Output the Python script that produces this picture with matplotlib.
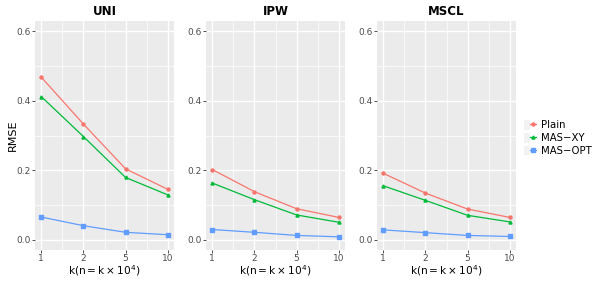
import numpy as np
import matplotlib.pyplot as plt
from matplotlib.patches import Patch
from matplotlib.legend_handler import HandlerTuple

plt.rcParams['mathtext.default'] = 'regular'

# data
k_labels = ["1", "2", "5", "10"]
panels = ["UNI", "IPW", "MSCL"]
methods = ["Plain", "MAS\u2212XY", "MAS\u2212OPT"]

plain = {"UNI": [0.468, 0.333, 0.204, 0.145],
         "IPW": [0.202, 0.138, 0.089, 0.064],
         "MSCL": [0.191, 0.134, 0.088, 0.064]}
mas_xy = {"UNI": [0.412, 0.297, 0.179, 0.129],
          "IPW": [0.163, 0.115, 0.071, 0.050],
          "MSCL": [0.155, 0.113, 0.070, 0.051]}
mas_opt = {"UNI": [0.065, 0.040, 0.021, 0.014],
           "IPW": [0.029, 0.021, 0.012, 0.008],
           "MSCL": [0.028, 0.020, 0.012, 0.009]}

series = [plain, mas_xy, mas_opt]
colors = ["#F8766D", "#00BA38", "#619CFF"]
markers = ["o", "^", "s"]

W, H = 602, 286
fig = plt.figure(figsize=(W / 100, H / 100), dpi=100)

x = np.arange(1, len(k_labels) + 1)
lefts = [35, 206, 377]
pw, top, bot = 139, 21, 250
ph = bot - top

handles = []
for i, p in enumerate(panels):
    ax = fig.add_axes([lefts[i] / W, 1 - bot / H, pw / W, ph / H])
    ax.set_facecolor("#EBEBEB")
    for s in ax.spines.values():
        s.set_visible(False)
    ax.set_xlim(1 - 0.15, 4 + 0.15)
    ax.set_ylim(-0.03, 0.63)
    ax.set_xticks(x)
    ax.set_xticklabels(k_labels)
    ax.set_xticks(x[:-1] + 0.5, minor=True)
    ax.set_yticks([0, 0.2, 0.4, 0.6])
    ax.set_yticklabels(["0.0", "0.2", "0.4", "0.6"])
    ax.set_yticks([0.1, 0.3, 0.5], minor=True)
    ax.grid(which="major", color="white", linewidth=1.0)
    ax.grid(which="minor", color="white", linewidth=0.5)
    ax.set_axisbelow(True)
    ax.tick_params(which="major", length=2.2, width=0.6, color="#333333",
                   labelsize=6.5, labelcolor="#4D4D4D", pad=1)
    ax.tick_params(which="minor", length=0)
    for j, s in enumerate(series):
        h, = ax.plot(x, s[p], color=colors[j], marker=markers[j], markersize=2.2,
                     linewidth=0.9, label=methods[j])
        if i == 0:
            handles.append(h)
    ax.set_title(p, fontsize=8.5, fontweight="bold", pad=4.5)
    ax.set_xlabel(r"$k(n = k \times 10^4)$", fontsize=7.6, va="top")
    ax.xaxis.set_label_coords(0.5, -13 / ph)
    if i == 0:
        ax.set_ylabel("RMSE", fontsize=8, va="center")
        ax.yaxis.set_label_coords((13 - lefts[0]) / pw, 0.5)

keys = [(Patch(facecolor="#F2F2F2", edgecolor="none"), h) for h in handles]
fig.legend(handles=keys, labels=methods, loc="center left",
           bbox_to_anchor=(520 / W, 1 - 138 / H),
           handler_map={tuple: HandlerTuple(ndivide=None, pad=0)},
           frameon=False, fontsize=7.3, handlelength=1.2, handleheight=1.1,
           handletextpad=0.45, labelspacing=0.25, borderaxespad=0)

fig.savefig("out.png", dpi=100)
